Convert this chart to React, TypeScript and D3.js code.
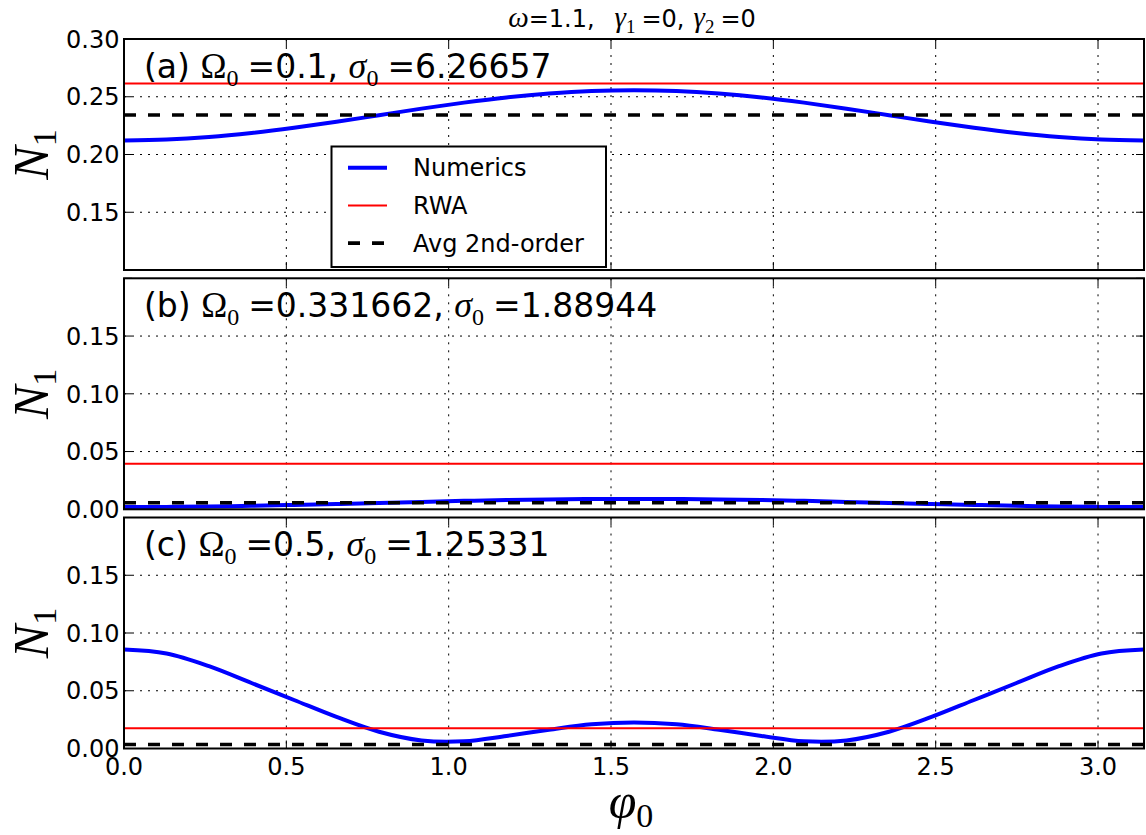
import React from 'react';
import * as d3 from 'd3';

// ---------- data ----------
const phi = [0, 0.1309, 0.2618, 0.3927, 0.5236, 0.6545, 0.7854, 0.9163, 1.0472, 1.1781, 1.309, 1.4399, 1.5708,
  1.7017, 1.8326, 1.9635, 2.0944, 2.2253, 2.3562, 2.4871, 2.618, 2.7489, 2.8798, 3.0107, 3.1416];

const numericsA = [0.2122, 0.2129, 0.2151, 0.2186, 0.2231, 0.2283, 0.2340, 0.2397, 0.2449, 0.2494, 0.2528, 0.2550, 0.2557,
  0.2550, 0.2528, 0.2494, 0.2449, 0.2397, 0.2340, 0.2283, 0.2231, 0.2186, 0.2151, 0.2129, 0.2122];
const numericsB = [0.0020, 0.0021, 0.0025, 0.0030, 0.0038, 0.0046, 0.0055, 0.0064, 0.0073, 0.0080, 0.0085, 0.0089, 0.0090,
  0.0089, 0.0085, 0.0080, 0.0073, 0.0064, 0.0055, 0.0046, 0.0038, 0.0030, 0.0025, 0.0021, 0.0020];
const numericsC = [0.0857, 0.0823, 0.0713, 0.0567, 0.0420, 0.0273, 0.0145, 0.0070, 0.0063, 0.0109, 0.0162, 0.0209, 0.0226,
  0.0209, 0.0162, 0.0109, 0.0063, 0.0070, 0.0145, 0.0273, 0.0420, 0.0567, 0.0713, 0.0823, 0.0857];

const rwaValues = [0.2614, 0.0395, 0.0176];
const avg2ndValues = [0.2342, 0.0057, 0.0035];

const panelTags = ['(a)', '(b)', '(c)'];
const omegaValues = ['0.1', '0.331662', '0.5'];
const sigmaValues = ['6.26657', '1.88944', '1.25331'];

const yDomains = [[0.10, 0.30], [0, 0.20], [0, 0.20]];
const yTicksAll = [[0.10, 0.15, 0.20, 0.25, 0.30], [0, 0.05, 0.10, 0.15, 0.20], [0, 0.05, 0.10, 0.15, 0.20]];
const yTickLabels = [[0.15, 0.20, 0.25, 0.30], [0, 0.05, 0.10, 0.15], [0, 0.05, 0.10, 0.15]];
const xDomain = [0, 3.1416];
const xTicks = [0, 0.5, 1.0, 1.5, 2.0, 2.5, 3.0];

const legendItems = ['Numerics', 'RWA', 'Avg 2nd-order'];

// ---------- layout ----------
const W = 1146, H = 835;
const X0 = 124, X1 = 1144;
const PANEL_TOPS = [39, 278.3, 517.5];
const PANEL_H = 231;
const BLUE = '#0000ff', RED = '#ff0000';
const SANS = 'DejaVu Sans';
const SERIF = 'Liberation Serif';

export default function App() {
  const x = d3.scaleLinear().domain(xDomain).range([X0, X1]);
  const series = [numericsA, numericsB, numericsC];

  return (
    <svg width={W} height={H} style={{ position: 'absolute', left: 0, top: 0, background: '#fff' }}
      xmlns="http://www.w3.org/2000/svg">
      <rect x={0} y={0} width={W} height={H} fill="#fff" />
      <defs>
        {PANEL_TOPS.map((top, i) => (
          <clipPath id={`clip${i}`} key={i}>
            <rect x={X0} y={top} width={X1 - X0} height={PANEL_H} />
          </clipPath>
        ))}
      </defs>

      {/* title */}
      <text x={632} y={27} textAnchor="middle" fontFamily={SANS} fontSize={24}>
        <tspan fontFamily={SERIF} fontStyle="italic" fontSize={29}>ω</tspan>
        <tspan>=1.1,</tspan>
        <tspan dx={20} fontFamily={SERIF} fontStyle="italic" fontSize={29}>γ</tspan>
        <tspan fontFamily={SERIF} fontSize={19} dy={6}>1</tspan>
        <tspan dx={6} dy={-6}>=0,</tspan>
        <tspan dx={9} fontFamily={SERIF} fontStyle="italic" fontSize={29}>γ</tspan>
        <tspan fontFamily={SERIF} fontSize={19} dy={6}>2</tspan>
        <tspan dx={6} dy={-6}>=0</tspan>
      </text>

      {PANEL_TOPS.map((top, i) => {
        const y = d3.scaleLinear().domain(yDomains[i]).range([top + PANEL_H, top]);
        const line = d3.line<number>()
          .x((_, k) => x(phi[k]))
          .y((d) => y(d))
          .curve(d3.curveCatmullRom.alpha(0.5));
        const bottom = top + PANEL_H;
        return (
          <g key={i}>
            {/* grid */}
            {xTicks.filter((t) => t > 0).map((t) => (
              <line key={`gx${t}`} x1={x(t)} x2={x(t)} y1={top} y2={bottom}
                stroke="#000" strokeWidth={1} strokeDasharray="2,6" />
            ))}
            {yTicksAll[i].filter((t) => y(t) > top + 1 && y(t) < bottom - 1).map((t) => (
              <line key={`gy${t}`} x1={X0} x2={X1} y1={y(t)} y2={y(t)}
                stroke="#000" strokeWidth={1} strokeDasharray="2,6" />
            ))}

            {/* data */}
            <g clipPath={`url(#clip${i})`}>
              <path d={line(series[i]) || ''} fill="none" stroke={BLUE} strokeWidth={4} />
              <line x1={x(xDomain[0])} x2={x(xDomain[1])} y1={y(rwaValues[i])} y2={y(rwaValues[i])}
                stroke={RED} strokeWidth={2} />
              <line x1={x(xDomain[0])} x2={x(xDomain[1])} y1={y(avg2ndValues[i])} y2={y(avg2ndValues[i])}
                stroke="#000" strokeWidth={3.6} strokeDasharray="12,12" />
            </g>

            {/* ticks (inward, all four sides) */}
            {xTicks.map((t) => (
              <g key={`tx${t}`}>
                <line x1={x(t)} x2={x(t)} y1={bottom} y2={bottom - 8} stroke="#000" strokeWidth={1} />
                <line x1={x(t)} x2={x(t)} y1={top} y2={top + 8} stroke="#000" strokeWidth={1} />
              </g>
            ))}
            {yTicksAll[i].map((t) => (
              <g key={`ty${t}`}>
                <line x1={X0} x2={X0 + 8} y1={y(t)} y2={y(t)} stroke="#000" strokeWidth={1} />
                <line x1={X1} x2={X1 - 8} y1={y(t)} y2={y(t)} stroke="#000" strokeWidth={1} />
              </g>
            ))}

            {/* frame */}
            <rect x={X0} y={top} width={X1 - X0} height={PANEL_H} fill="none" stroke="#000" strokeWidth={2} />

            {/* y tick labels */}
            {yTickLabels[i].map((t) => (
              <text key={`yl${t}`} x={119.5} y={y(t) + 8.7} textAnchor="end" fontFamily={SANS} fontSize={24}>
                {d3.format('.2f')(t)}
              </text>
            ))}

            {/* x tick labels only on the last panel */}
            {i === 2 && xTicks.map((t) => (
              <text key={`xl${t}`} x={x(t)} y={bottom + 26} textAnchor="middle" fontFamily={SANS} fontSize={24}>
                {d3.format('.1f')(t)}
              </text>
            ))}

            {/* y axis label */}
            <text transform={`translate(48,${top + PANEL_H / 2}) rotate(-90)`} textAnchor="middle">
              <tspan fontFamily={SERIF} fontStyle="italic" fontSize={50}>N</tspan>
              <tspan fontFamily={SERIF} fontSize={34} dy={8}>1</tspan>
            </text>

            {/* panel label */}
            <text x={144} y={top + 38.5} fontFamily={SANS} fontSize={33}>
              <tspan>{`${panelTags[i]} `}</tspan>
              <tspan fontFamily={SERIF} fontSize={35}>Ω</tspan>
              <tspan fontFamily={SERIF} fontSize={24} dy={8}>0</tspan>
              <tspan dx={9} dy={-8}>{`=${omegaValues[i]}, `}</tspan>
              <tspan fontFamily={SERIF} fontStyle="italic" fontSize={36}>σ</tspan>
              <tspan fontFamily={SERIF} fontSize={24} dy={8}>0</tspan>
              <tspan dx={9} dy={-8}>{`=${sigmaValues[i]}`}</tspan>
            </text>
          </g>
        );
      })}

      {/* legend */}
      <g>
        <rect x={331.5} y={146.5} width={274.5} height={120.5} fill="#fff" stroke="#000" strokeWidth={2} />
        {legendItems.map((name, k) => {
          const cy = 167.7 + k * 37.7;
          return (
            <g key={name}>
              {k === 0 && <line x1={348} x2={387} y1={cy} y2={cy} stroke={BLUE} strokeWidth={4} />}
              {k === 1 && <line x1={348} x2={387} y1={cy} y2={cy} stroke={RED} strokeWidth={2} />}
              {k === 2 && <line x1={348} x2={387} y1={cy} y2={cy} stroke="#000" strokeWidth={3.6} strokeDasharray="12,12" />}
              <text x={413} y={cy + 8.7} fontFamily={SANS} fontSize={24}>{name}</text>
            </g>
          );
        })}
      </g>

      {/* x axis label */}
      <text x={631} y={818} textAnchor="middle">
        <tspan fontFamily={SERIF} fontStyle="italic" fontSize={50}>φ</tspan>
        <tspan fontFamily={SERIF} fontSize={34} dy={9}>0</tspan>
      </text>
    </svg>
  );
}
